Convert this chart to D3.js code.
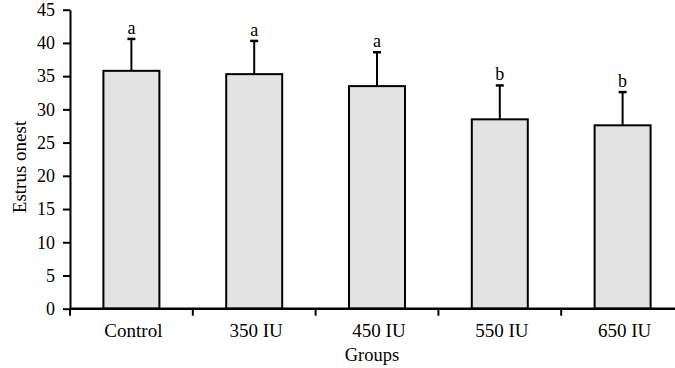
<!DOCTYPE html>
<html>
<head>
<meta charset="utf-8">
<script src="https://cdn.jsdelivr.net/npm/d3@7"></script>
<style>
  body { margin: 0; background: #fff; }
  svg { display: block; font-family: "Liberation Serif", "Times New Roman", serif; }
</style>
</head>
<body>
<svg id="chart" width="675" height="368"></svg>
<script>
const groups = ["Control", "350 IU", "450 IU", "550 IU", "650 IU"];
const means = [35.8, 35.3, 33.5, 28.5, 27.6];
const sds = [4.8, 5.0, 5.1, 5.1, 5.0];
const letters = ["a", "a", "a", "b", "b"];
const yTicks = [0, 5, 10, 15, 20, 25, 30, 35, 40, 45];

const svg = d3.select("#chart");
const width = +svg.attr("width");

const x = d3.scaleBand().domain(groups).range([70, 684]).paddingInner(0.544).paddingOuter(0.272);
const y = d3.scaleLinear().domain([0, 45]).range([308.7, 9.7]);

const data = groups.map((g, i) => ({ group: g, mean: means[i], sd: sds[i], letter: letters[i] }));

// bars
svg.selectAll(".bar").data(data).enter().append("rect")
    .attr("x", d => x(d.group))
    .attr("y", d => y(d.mean))
    .attr("width", x.bandwidth())
    .attr("height", d => y(0) - y(d.mean))
    .attr("fill", "#e3e3e3")
    .attr("stroke", "#000")
    .attr("stroke-width", 2);

// error bars (upper only)
const cx = d => x(d.group) + x.bandwidth() / 2;
svg.selectAll(".err").data(data).enter().append("line")
    .attr("x1", cx).attr("x2", cx)
    .attr("y1", d => y(d.mean)).attr("y2", d => y(d.mean + d.sd))
    .attr("stroke", "#000").attr("stroke-width", 2);
svg.selectAll(".cap").data(data).enter().append("line")
    .attr("x1", d => cx(d) - 4).attr("x2", d => cx(d) + 4)
    .attr("y1", d => y(d.mean + d.sd)).attr("y2", d => y(d.mean + d.sd))
    .attr("stroke", "#000").attr("stroke-width", 2.5);

// significance letters
svg.selectAll(".letter").data(data).enter().append("text")
    .attr("x", cx)
    .attr("y", d => y(d.mean + d.sd) - 5)
    .attr("text-anchor", "middle")
    .attr("font-size", 18)
    .text(d => d.letter);

// y axis
const yAxis = svg.append("g").attr("transform", "translate(70,0)")
    .call(d3.axisLeft(y).tickValues(yTicks).tickSize(7).tickPadding(8).tickSizeOuter(0));
yAxis.select(".domain").attr("stroke-width", 2);
yAxis.selectAll(".tick line").attr("stroke-width", 2);
yAxis.selectAll("text").attr("font-size", 18).attr("font-family", "Liberation Serif").attr("fill", "#000");

// x axis line
svg.append("line")
    .attr("x1", 70).attr("x2", width)
    .attr("y1", y(0)).attr("y2", y(0))
    .attr("stroke", "#000").attr("stroke-width", 2.5);

// boundary ticks between groups
const half = (x.step() - x.bandwidth()) / 2;
const bounds = groups.map(g => x(g) - half);
svg.selectAll(".xtick").data(bounds).enter().append("line")
    .attr("x1", d => d).attr("x2", d => d)
    .attr("y1", y(0)).attr("y2", y(0) + 7)
    .attr("stroke", "#000").attr("stroke-width", 2);

// group labels
svg.selectAll(".xlab").data(groups).enter().append("text")
    .attr("x", g => x(g) + x.bandwidth() / 2 + 2)
    .attr("y", 337)
    .attr("text-anchor", "middle")
    .attr("font-size", 19)
    .text(g => g);

// axis titles
svg.append("text")
    .attr("x", 372).attr("y", 361)
    .attr("text-anchor", "middle")
    .attr("font-size", 18.5)
    .text("Groups");

svg.append("text")
    .attr("transform", "translate(26,167) rotate(-90)")
    .attr("text-anchor", "middle")
    .attr("font-size", 19)
    .text("Estrus onest");
</script>
</body>
</html>
